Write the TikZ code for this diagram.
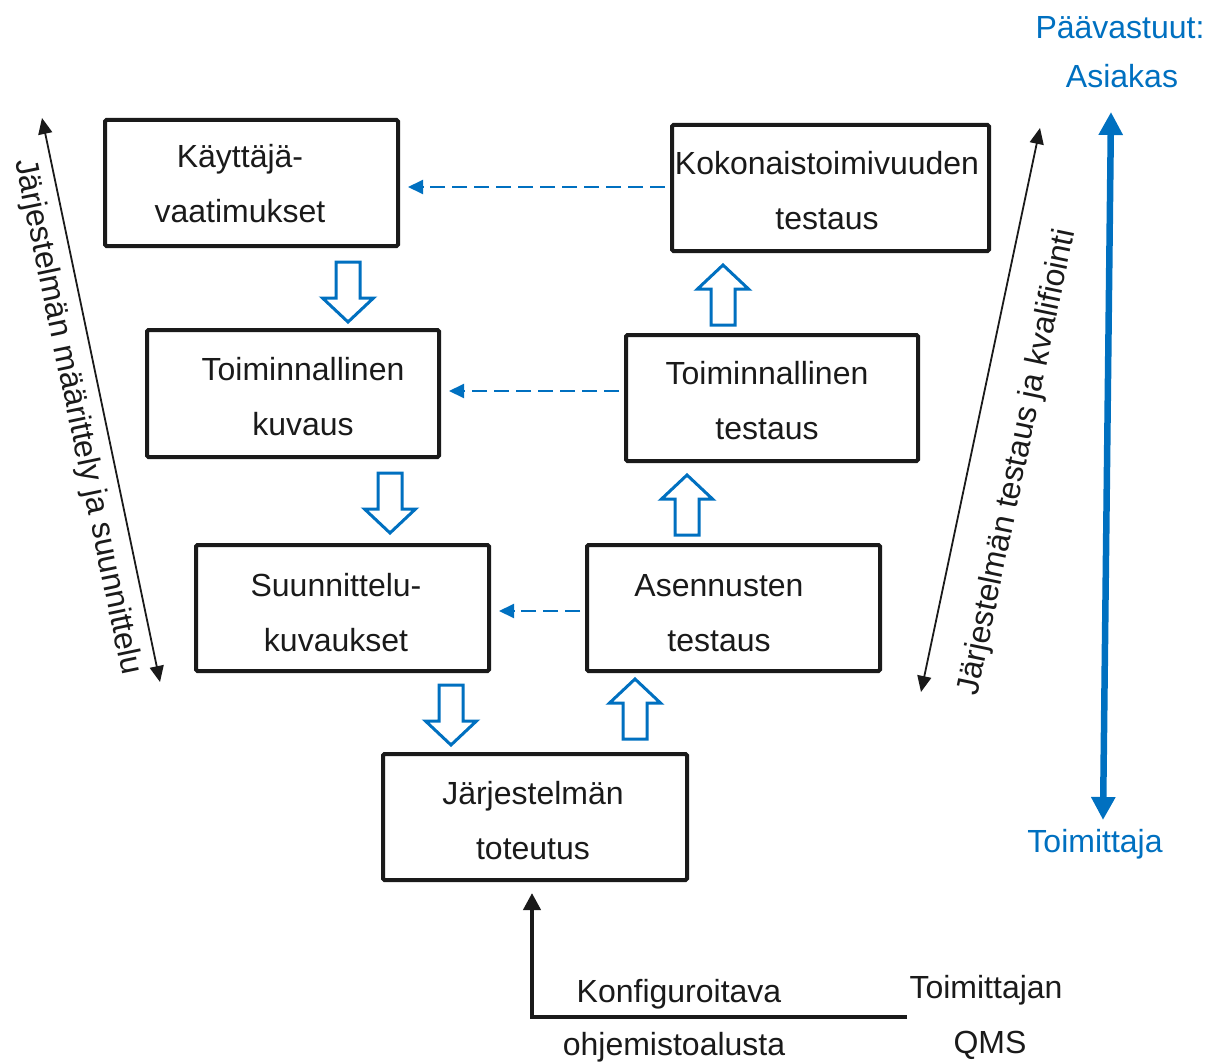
\documentclass[tikz,border=0pt]{standalone}
\usepackage{fontspec}
\setmainfont{Liberation Sans}
\usetikzlibrary{arrows.meta,calc}
\definecolor{ablue}{HTML}{0070C0}
\definecolor{ink}{HTML}{1A1A1A}
\begin{document}
\begin{tikzpicture}[x=1pt,y=-1pt,
  box/.style={draw=ink, line width=4pt, rounded corners=1.5pt, inner sep=0pt, outer sep=2pt},
  txt/.style={font=\fontsize{32}{55}\selectfont, text=ink, align=center, inner sep=0pt},
  btxt/.style={font=\fontsize{32}{50}\selectfont, text=ablue, inner sep=0pt, anchor=base},
  dasharrow/.style={draw=ablue, line width=2pt, dash pattern=on 15pt off 7pt,
    -{Triangle[length=15pt,width=14pt]}, shorten <=5pt, shorten >=8pt},
  thinarrow/.style={draw=ink, line width=1.8pt, {Triangle[length=16pt,width=14pt]}-{Triangle[length=16pt,width=14pt]}},
  bluearrow/.style={draw=ablue, line width=6.5pt, {Triangle[length=23pt,width=23pt]}-{Triangle[length=23pt,width=23pt]}},
  feedarrow/.style={draw=ink, line width=4pt, -{Triangle[length=17pt,width=17pt]}, shorten >=11pt},
  hollow/.style={draw=ablue, line width=3pt, fill=white, line join=miter},
  hdown/.pic={\path[hollow] (-12,0)--(12,0)--(12,36)--(25.5,36)--(0,60)--(-25.5,36)--(-12,36)--cycle;},
  hup/.pic={\path[hollow] (-12,60)--(12,60)--(12,24)--(25.5,24)--(0,0)--(-25.5,24)--(-12,24)--cycle;}
]
\useasboundingbox (0,0) rectangle (1221,1062);

% boxes
\node[box, minimum width=293pt, minimum height=126pt] (b1) at (251.5,183) {};
\node[box, minimum width=317pt, minimum height=126pt] (b2) at (830.5,188) {};
\node[box, minimum width=292pt, minimum height=127pt] (b3) at (293,393.5) {};
\node[box, minimum width=292pt, minimum height=126pt] (b4) at (772,398) {};
\node[box, minimum width=293pt, minimum height=126pt] (b5) at (342.5,608) {};
\node[box, minimum width=293pt, minimum height=126pt] (b6) at (733.5,608) {};
\node[box, minimum width=304pt, minimum height=126pt] (b7) at (535,817) {};

% box texts
\node[txt] (t1) at (240,184) {Käyttäjä-\\vaatimukset};
\node[txt] (t2) at (827,191) {Kokonaistoimivuuden\\testaus};
\node[txt] (t3) at (303,397) {Toiminnallinen\\kuvaus};
\node[txt] (t4) at (767,401) {Toiminnallinen\\testaus};
\node[txt] (t5) at (336,613) {Suunnittelu-\\kuvaukset};
\node[txt] (t6) at (719,613) {Asennusten\\testaus};
\node[txt] (t7) at (533,821) {Järjestelmän\\toteutus};

% hollow block arrows
\pic at (348,262) {hdown};
\pic at (390,473) {hdown};
\pic at (451,685) {hdown};
\pic at (635,679) {hup};
\pic at (687,475) {hup};
\pic at (723,265) {hup};

% dashed feedback arrows
\draw[dasharrow] (b2.west |- 0,187) -- (b1.east |- 0,187);
\draw[dasharrow] (b4.west |- 0,391) -- (b3.east |- 0,391);
\draw[dasharrow] (b6.west |- 0,611) -- (b5.east |- 0,611);

% left double arrow and label
\coordinate (la) at (42,118);
\coordinate (lb) at (160,682);
\draw[thinarrow] (la) -- (lb);
\node[txt, rotate=-78.2] (lt) at (77,417) {Järjestelmän määrittely ja suunnittelu};

% right double arrow and label
\coordinate (ra) at (921,692);
\coordinate (rb) at (1040,128);
\draw[thinarrow] (ra) -- (rb);
\node[txt, rotate=78.2] (rt) at (1018,462) {Järjestelmän testaus ja kvalifiointi};

% blue responsibility arrow
\node[btxt] (pv) at (1120,39) {Päävastuut:};
\node[btxt] (as) at (1122,88) {Asiakas};
\node[btxt] (tm) at (1095,852) {Toimittaja};
\coordinate (va) at (1111,112);
\coordinate (vb) at (1103,820);
\draw[bluearrow] (va) -- (vb);

% bottom input arrow
\coordinate (bs) at (907,1017);
\coordinate (bc) at (532,1017);
\draw[feedarrow] (bs) -- (bc) -- (bc |- b7.south);
\node[txt, anchor=base] (k1) at (679,1002) {Konfiguroitava};
\node[txt, anchor=base] (k2) at (674,1055) {ohjemistoalusta};
\node[txt, anchor=base] (q1) at (986,998) {Toimittajan};
\node[txt, anchor=base] (q2) at (990,1053) {QMS};
\end{tikzpicture}
\end{document}
